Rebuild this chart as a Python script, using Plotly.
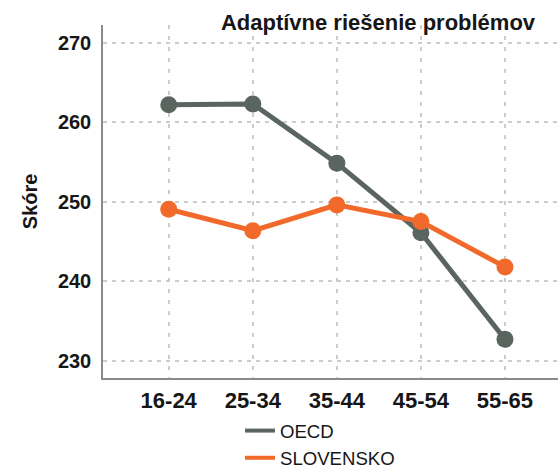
import plotly.graph_objects as go

categories = ["16-24", "25-34", "35-44", "45-54", "55-65"]
oecd = [262.2, 262.3, 254.85, 246.1, 232.7]
slovensko = [249.05, 246.35, 249.6, 247.5, 241.8]
y_ticks = [230, 240, 250, 260, 270]
title_text = "Adaptívne riešenie problémov"
y_title = "Skóre"

OECD_COLOR = "#5A6560"
SK_COLOR = "#F26A2B"
FONT = "Liberation Sans, Arial, sans-serif"
TXT = "#161616"

W, H = 558, 469
L, R, T, B = 103, 0, 25, 91  # plot area: x 103..558, y 25..378

xs = list(range(len(categories)))
fig = go.Figure()
fig.add_trace(go.Scatter(x=xs, y=oecd, name="OECD", mode="lines+markers", showlegend=False,
                         line=dict(color=OECD_COLOR, width=5), marker=dict(size=17, color=OECD_COLOR)))
fig.add_trace(go.Scatter(x=xs, y=slovensko, name="SLOVENSKO", mode="lines+markers", showlegend=False,
                         line=dict(color=SK_COLOR, width=5), marker=dict(size=17, color=SK_COLOR)))
# legend entries (line only, no marker, as in the reference)
fig.add_trace(go.Scatter(x=[None], y=[None], name="OECD", mode="lines",
                         line=dict(color=OECD_COLOR, width=4)))
fig.add_trace(go.Scatter(x=[None], y=[None], name="SLOVENSKO", mode="lines",
                         line=dict(color=SK_COLOR, width=4)))

plot_w = W - L - R
plot_h = H - T - B

fig.update_layout(
    width=W, height=H,
    margin=dict(l=L, r=R, t=T, b=B, pad=0, autoexpand=False),
    paper_bgcolor="white", plot_bgcolor="white",
    font=dict(family=FONT, color=TXT),
    title=dict(text="<b>" + title_text + "</b>", x=378 / W, xanchor="center",
               y=1 - 30 / H, yanchor="bottom", yref="container",
               font=dict(size=22, color=TXT)),
    showlegend=True,
    legend=dict(orientation="v", x=(240 - L) / plot_w, xanchor="left",
                y=-(412 - 378) / plot_h, yanchor="top",
                font=dict(size=18.6, color=TXT), itemwidth=30, tracegroupgap=0,
                bgcolor="rgba(0,0,0,0)", borderwidth=0),
    xaxis=dict(tickmode="array", tickvals=xs, ticktext=categories,
               range=[-0.782, 4.631], showgrid=True, gridcolor="#cdcdcd", griddash="4px,7px", gridwidth=1.5,
               showline=True, linecolor="#8a8a8a", linewidth=1.5, zeroline=False, ticks="",
               tickfont=dict(size=22, family=FONT, color=TXT, weight="bold"), ticklabelstandoff=2),
    yaxis=dict(tickmode="array", tickvals=y_ticks, range=[227.83, 272.22],
               showgrid=True, gridcolor="#cdcdcd", griddash="4px,5px", gridwidth=1.5,
               showline=True, linecolor="#8a8a8a", linewidth=1.5, zeroline=False, ticks="",
               tickfont=dict(size=20, family=FONT, color=TXT, weight="bold"), ticklabelstandoff=6,
               title=dict(text="<b>" + y_title + "</b>", font=dict(size=20, color=TXT), standoff=15)),
)

fig.write_html("out.html", config={"displayModeBar": False},
               post_script="document.body.style.margin='0';")
